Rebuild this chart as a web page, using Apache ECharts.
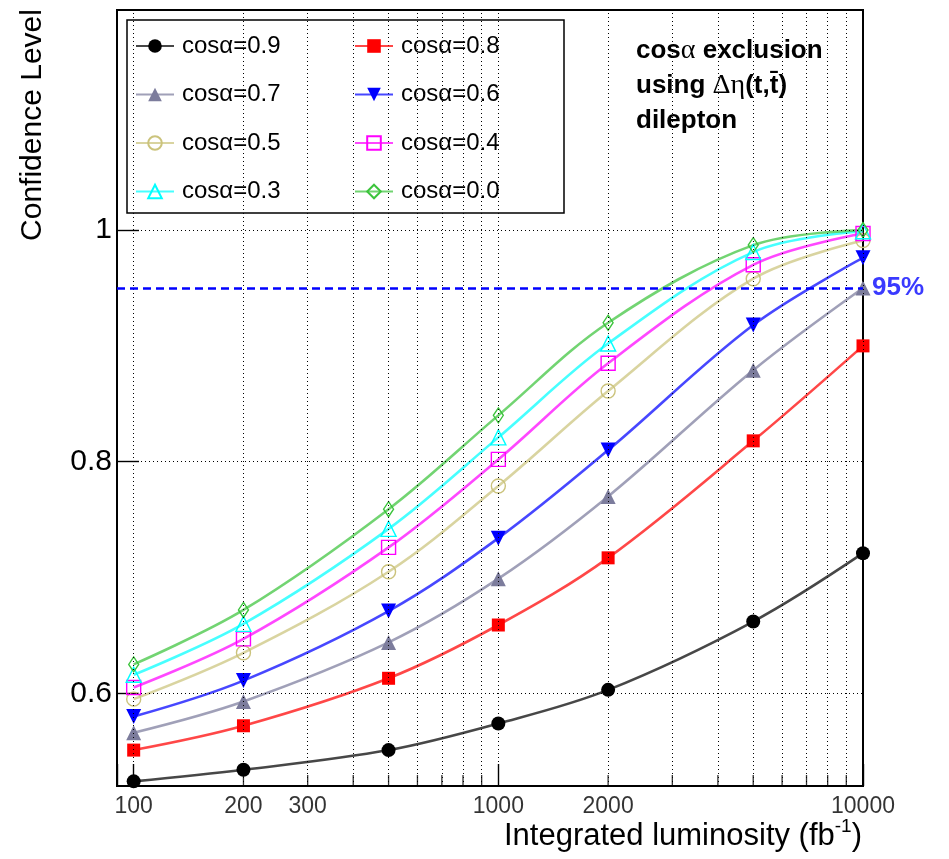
<!DOCTYPE html>
<html>
<head>
<meta charset="utf-8">
<script src="https://cdn.jsdelivr.net/npm/echarts@6/dist/echarts.min.js"></script>
<style>
  html, body { margin: 0; padding: 0; background: #ffffff; }
  #chart { width: 949px; height: 859px; }
</style>
</head>
<body>
<div id="chart"></div>
<script>
// Integrated luminosity points (fb^-1)
const luminosity = [100, 200, 500, 1000, 2000, 5000, 10000];

// Exclusion confidence level for each cos(alpha) hypothesis
const clCos09 = [0.524, 0.534, 0.551, 0.574, 0.603, 0.662, 0.721];
const clCos08 = [0.551, 0.572, 0.613, 0.659, 0.717, 0.818, 0.900];
const clCos07 = [0.566, 0.593, 0.644, 0.699, 0.770, 0.879, 0.950];
const clCos06 = [0.580, 0.611, 0.671, 0.734, 0.810, 0.918, 0.976];
const clCos05 = [0.595, 0.635, 0.705, 0.779, 0.861, 0.958, 0.991];
const clCos04 = [0.605, 0.647, 0.726, 0.802, 0.885, 0.970, 0.997];
const clCos03 = [0.616, 0.660, 0.742, 0.821, 0.902, 0.981, 0.999];
const clCos00 = [0.625, 0.672, 0.759, 0.840, 0.920, 0.987, 1.000];

const seriesNames = ['cosα=0.9', 'cosα=0.8', 'cosα=0.7', 'cosα=0.6',
                     'cosα=0.5', 'cosα=0.4', 'cosα=0.3', 'cosα=0.0'];

// Axis ticks and grid
const xTickLabels = [100, 200, 300, 1000, 2000, 10000];
const xMinorTicks = [200, 300, 400, 500, 600, 700, 800, 900,
                     2000, 3000, 4000, 5000, 6000, 7000, 8000, 9000];
const xGridLines = [100, 200, 300, 400, 500, 600, 700, 800, 900,
                    1000, 2000, 3000, 4000, 5000, 6000, 7000, 8000, 9000, 10000];
const yTickLabels = [0.6, 0.8, 1];
const exclusionLevel = 0.95;

const X_MIN = 90, X_MAX = 10000, Y_MIN = 0.52, Y_MAX = 1.19;
const FONT = '"Liberation Sans", Arial, Helvetica, sans-serif';

function curve(name, values, color, symbol, size, filled, rotate) {
  return {
    type: 'line',
    name: name,
    data: luminosity.map((x, i) => [x, values[i]]),
    smooth: 0.35,
    clip: false,
    symbol: symbol,
    symbolSize: size,
    symbolRotate: rotate || 0,
    showAllSymbol: true,
    lineStyle: { color: color, width: 2.6, opacity: 0.72 },
    itemStyle: filled
      ? { color: color, borderWidth: 0 }
      : { color: 'transparent', borderColor: color, borderWidth: 1.4 },
    emphasis: { disabled: true },
    z: 3
  };
}

const legendText = { fontSize: 24, color: '#000', fontFamily: FONT, padding: [0, 0, 0, 3] };

const chart = echarts.init(document.getElementById('chart'), null, { renderer: 'canvas' });

const option = {
  animation: false,
  backgroundColor: '#ffffff',
  grid: {
    left: 117, right: 86, top: 10, bottom: 73,
    show: true, borderColor: '#000', borderWidth: 2,
    containLabel: false, outerBoundsMode: 'none'
  },
  xAxis: {
    type: 'log', logBase: 10, min: X_MIN, max: X_MAX,
    axisLine: { show: true, onZero: false, lineStyle: { color: '#000', width: 2 } },
    axisTick: { show: true, inside: true, length: 22, lineStyle: { color: '#000', width: 1.4 } },
    axisLabel: { show: false },
    splitLine: { show: false }
  },
  yAxis: {
    type: 'value', min: Y_MIN, max: Y_MAX,
    axisLine: { show: true, onZero: false, lineStyle: { color: '#000', width: 2 } },
    axisTick: { show: true, inside: true, length: 22, customValues: yTickLabels,
                lineStyle: { color: '#000', width: 1.4 } },
    axisLabel: { show: true, customValues: yTickLabels, fontSize: 30, color: '#000',
                 fontFamily: FONT, margin: 5 },
    splitLine: { show: false }
  },
  legend: [
    {
      data: [seriesNames[0], seriesNames[2], seriesNames[4], seriesNames[6]],
      orient: 'vertical', left: 135, top: 34, padding: 0,
      itemWidth: 38, itemHeight: 17, itemGap: 24.5,
      selectedMode: false, z: 6, textStyle: legendText
    },
    {
      data: [seriesNames[1], seriesNames[3], seriesNames[5], seriesNames[7]],
      orient: 'vertical', left: 354, top: 34, padding: 0,
      itemWidth: 38, itemHeight: 17, itemGap: 24.5,
      selectedMode: false, z: 6, textStyle: legendText
    }
  ],
  graphic: [
    {
      type: 'rect', z: 3, silent: true,
      shape: { x: 127, y: 20, width: 437, height: 193 },
      style: { fill: '#ffffff', stroke: '#000', lineWidth: 1.5 }
    },
    {
      type: 'text', z: 6, silent: true, x: 636, y: 33,
      style: {
        text: '{b|cos}{g|α}{b| exclusion}\n{b|using }{g|Δη}{b|(t,t̄)}\n{b|dilepton}',
        fill: '#000',
        verticalAlign: 'top',
        rich: {
          b: { fontFamily: FONT, fontWeight: 'bold', fontSize: 26, lineHeight: 35, fill: '#000' },
          g: { fontFamily: '"Liberation Serif", "DejaVu Serif", serif', fontSize: 28, lineHeight: 35, fill: '#000' }
        }
      }
    },
    {
      type: 'text', z: 6, silent: true, x: 33, y: 125, rotation: Math.PI / 2,
      style: {
        text: 'Confidence Level', fill: '#000',
        font: '30px ' + FONT, align: 'center', verticalAlign: 'middle'
      }
    },
    {
      type: 'text', z: 6, silent: true, x: 862, y: 836,
      style: {
        text: '{a|Integrated luminosity (fb}{s|-1}{a|)}',
        align: 'right', verticalAlign: 'middle', fill: '#000',
        rich: {
          a: { fontFamily: FONT, fontSize: 31, fill: '#000' },
          s: { fontFamily: FONT, fontSize: 19, fill: '#000', padding: [0, 0, 18, 0] }
        }
      }
    }
  ],
  series: [
    // dotted grid
    {
      type: 'line', name: 'grid', data: [], silent: true,
      markLine: {
        silent: true, symbol: ['none', 'none'], label: { show: false },
        lineStyle: { color: '#000', width: 1, type: [1, 3] },
        emphasis: { disabled: true },
        data: xGridLines.map(v => ({ xAxis: v })).concat(yTickLabels.map(v => ({ yAxis: v })))
      }
    },
    // 95% exclusion threshold
    {
      type: 'line', name: 'threshold', data: [], silent: true,
      markLine: {
        silent: true, symbol: ['none', 'none'],
        lineStyle: { color: '#0000ff', width: 2.5, type: [8, 5] },
        emphasis: { disabled: true },
        label: {
          show: true, position: 'end', distance: 9, formatter: '95%',
          color: '#3a3aff', fontWeight: 'bold', fontSize: 26, fontFamily: FONT
        },
        data: [{ yAxis: exclusionLevel }]
      }
    },
    // minor ticks on the luminosity axis
    {
      type: 'scatter', name: 'minorTicks', silent: true, clip: false,
      data: xMinorTicks.map(v => [v, Y_MIN]),
      symbol: 'rect', symbolSize: [1.3, 11], symbolOffset: [0, -5.5],
      itemStyle: { color: '#000' }, z: 4
    },
    // luminosity tick labels
    {
      type: 'scatter', name: 'xLabels', silent: true, clip: false,
      data: xTickLabels.map(v => [v, Y_MIN]),
      symbol: 'circle', symbolSize: 1, itemStyle: { color: 'transparent' },
      label: {
        show: true, position: 'bottom', distance: 9,
        formatter: p => String(p.value[0]),
        fontSize: 23, color: '#000', fontFamily: FONT
      }, z: 4
    },
    curve(seriesNames[0], clCos09, '#000000', 'circle', 14, true),
    curve(seriesNames[1], clCos08, '#ff0000', 'rect', 13, true),
    curve(seriesNames[2], clCos07, '#7c7c9c', 'triangle', 15, true),
    curve(seriesNames[3], clCos06, '#0000ff', 'triangle', 15, true, 180),
    curve(seriesNames[4], clCos05, '#cbc37c', 'circle', 14, false),
    curve(seriesNames[5], clCos04, '#ff00ff', 'rect', 14, false),
    curve(seriesNames[6], clCos03, '#00ffff', 'triangle', 15, false),
    curve(seriesNames[7], clCos00, '#3cc43c', 'diamond', [10, 15], false)
  ]
};

chart.setOption(option);
</script>
</body>
</html>
